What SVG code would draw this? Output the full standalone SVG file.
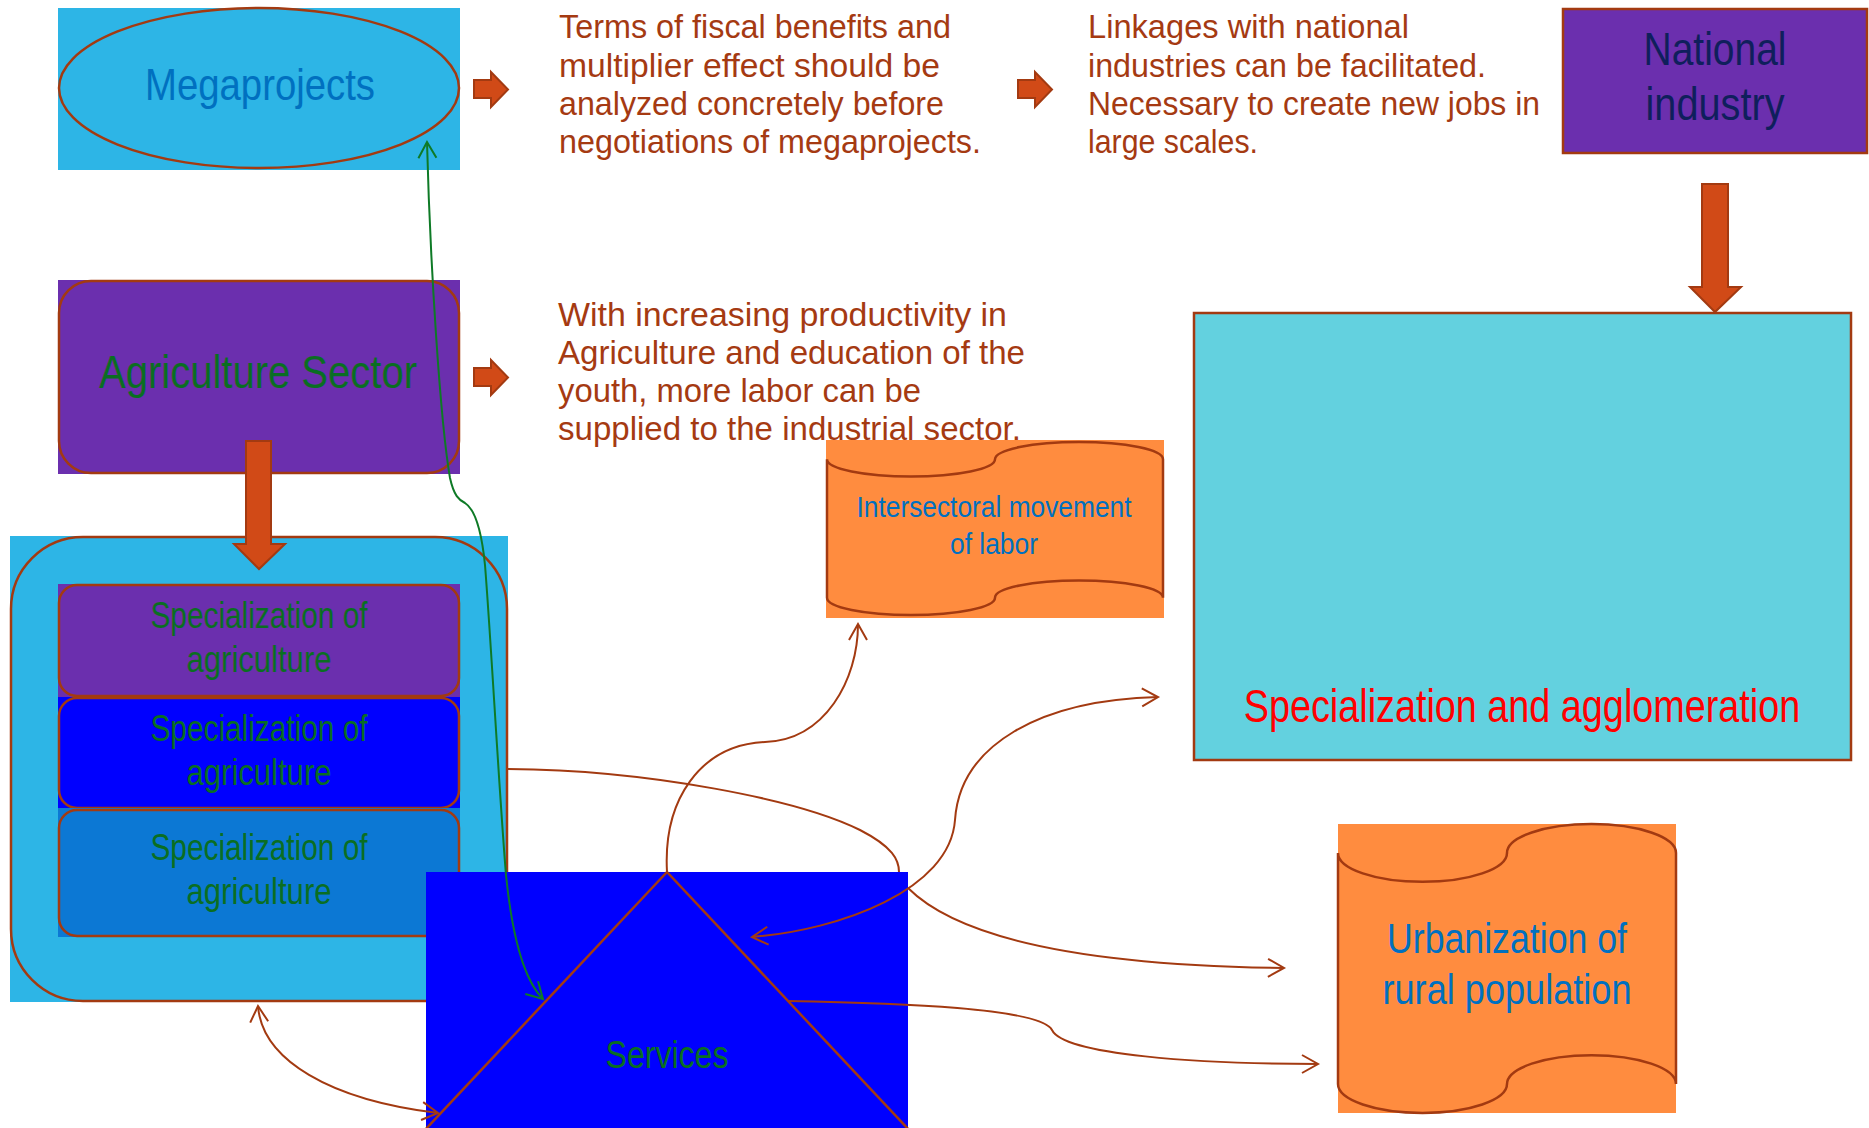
<svg xmlns="http://www.w3.org/2000/svg" width="1869" height="1128" viewBox="0 0 1869 1128">
<style>
.t{font-family:"Liberation Sans Narrow","Liberation Sans",Arial,sans-serif}
.stk{fill:none;stroke:#A33A11;stroke-width:2.5}
.conn{fill:none;stroke:#A33A11;stroke-width:2}
.gconn{fill:none;stroke:#0E7A26;stroke-width:2}
.barrow{fill:#D14A17;stroke:#A33A11;stroke-width:2}
.note{fill:#A53A12;font-size:34px}
.green{fill:#0A6E22}
.blue{fill:#0070C0}
</style>
<defs>
<marker id="ah" markerUnits="userSpaceOnUse" markerWidth="22" markerHeight="22" viewBox="-19 -11 22 22" refX="0" refY="0" orient="auto-start-reverse">
<path d="M-16,-9 L0,0 L-16,9" fill="none" stroke="#A33A11" stroke-width="2"/>
</marker>
<marker id="ahg" markerUnits="userSpaceOnUse" markerWidth="22" markerHeight="22" viewBox="-19 -11 22 22" refX="0" refY="0" orient="auto-start-reverse">
<path d="M-16,-9 L0,0 L-16,9" fill="none" stroke="#0E7A26" stroke-width="2"/>
</marker>
</defs>
<rect width="1869" height="1128" fill="#FFFFFF"/>

<g id="megaprojects">
<rect x="58" y="8" width="402" height="162" fill="#2DB5E6"/>
<ellipse cx="259" cy="88" rx="200" ry="80" class="stk"/>
<text x="260" y="100" class="t blue" font-size="45" text-anchor="middle" textLength="230" lengthAdjust="spacingAndGlyphs">Megaprojects</text>
</g>

<g id="arrow-1"><polygon class="barrow" points="474,80 491,80 491,72 508,89.5 491,107 491,98 474,98"/></g>
<g id="note-fiscal" class="t note">
<text x="559" y="38" textLength="392" lengthAdjust="spacingAndGlyphs">Terms of fiscal benefits and</text>
<text x="559" y="77" textLength="381" lengthAdjust="spacingAndGlyphs">multiplier effect should be</text>
<text x="559" y="115" textLength="385" lengthAdjust="spacingAndGlyphs">analyzed concretely before</text>
<text x="559" y="153" textLength="422" lengthAdjust="spacingAndGlyphs">negotiations of megaprojects.</text>
</g>
<g id="arrow-2"><polygon class="barrow" points="1018,80 1035,80 1035,72 1052,89.5 1035,107 1035,98 1018,98"/></g>
<g id="note-linkages" class="t note">
<text x="1088" y="38" textLength="321" lengthAdjust="spacingAndGlyphs">Linkages with national</text>
<text x="1088" y="77" textLength="398" lengthAdjust="spacingAndGlyphs">industries can be facilitated.</text>
<text x="1088" y="115" textLength="452" lengthAdjust="spacingAndGlyphs">Necessary to create new jobs in</text>
<text x="1088" y="153" textLength="170" lengthAdjust="spacingAndGlyphs">large scales.</text>
</g>

<g id="national-industry">
<rect x="1563" y="9" width="304" height="144" class="stk" style="fill:#6B2FAE"/>
<text x="1715" y="65" class="t" fill="#0F1F5C" font-size="46" text-anchor="middle" textLength="143" lengthAdjust="spacingAndGlyphs">National</text>
<text x="1715" y="120" class="t" fill="#0F1F5C" font-size="46" text-anchor="middle" textLength="139" lengthAdjust="spacingAndGlyphs">industry</text>
</g>
<g id="arrow-national"><polygon class="barrow" points="1702,184 1728,184 1728,287 1741,287 1715,312 1690,287 1702,287"/></g>

<g id="specialization-agglomeration">
<rect x="1194" y="313" width="657" height="447" class="stk" style="fill:#63D1DF"/>
<text transform="translate(1522,722) scale(0.804,1)" x="0" y="0" font-family="'Liberation Sans',Arial,sans-serif" fill="#FF0000" font-size="47" text-anchor="middle">Specialization and agglomeration</text>
</g>

<g id="agriculture-sector">
<rect x="58" y="280" width="402" height="194" fill="#6B2FAE"/>
<rect x="59" y="281" width="400" height="192" rx="32" class="stk"/>
<text x="258" y="388" class="t green" font-size="46" text-anchor="middle" textLength="318" lengthAdjust="spacingAndGlyphs">Agriculture Sector</text>
</g>
<g id="arrow-3"><polygon class="barrow" points="474,368 491,368 491,360 508,377.5 491,395 491,386 474,386"/></g>

<g id="note-productivity" class="t note">
<text x="558" y="326" textLength="449" lengthAdjust="spacingAndGlyphs">With increasing productivity in</text>
<text x="558" y="364" textLength="467" lengthAdjust="spacingAndGlyphs">Agriculture and education of the</text>
<text x="558" y="402" textLength="363" lengthAdjust="spacingAndGlyphs">youth, more labor can be</text>
<text x="558" y="440" textLength="463" lengthAdjust="spacingAndGlyphs">supplied to the industrial sector.</text>
</g>

<g id="intersectoral-movement">
<rect x="826" y="440" width="338" height="178" fill="#FF8C3F"/>
<path class="stk" d="M827,459.3 A84,17.3 0 0 0 995,459.3 A84,17.3 0 0 1 1163,459.3 L1163,597.7 A84,17.3 0 0 0 995,597.7 A84,17.3 0 0 1 827,597.7 Z"/>
<text x="994" y="517" class="t blue" font-size="29" text-anchor="middle" textLength="275" lengthAdjust="spacingAndGlyphs">Intersectoral movement</text>
<text x="994" y="554" class="t blue" font-size="29" text-anchor="middle" textLength="88" lengthAdjust="spacingAndGlyphs">of labor</text>
</g>

<g id="agriculture-group">
<rect x="10" y="536" width="498" height="466" fill="#2DB5E6"/>
<rect x="11" y="537" width="496" height="464" rx="72" class="stk"/>
</g>
<g id="arrow-agriculture"><polygon class="barrow" points="246,441 271,441 271,544 285,544 259,569 234,544 246,544"/></g>

<g id="specialization-1">
<rect x="58" y="584" width="402" height="113" fill="#6B2FAE"/>
<rect x="59" y="585" width="400" height="111" rx="18" class="stk"/>
<text x="259" y="628" class="t green" font-size="36" text-anchor="middle" textLength="217" lengthAdjust="spacingAndGlyphs">Specialization of</text>
<text x="259" y="672" class="t green" font-size="36" text-anchor="middle" textLength="145" lengthAdjust="spacingAndGlyphs">agriculture</text>
</g>
<g id="specialization-2">
<rect x="58" y="697" width="402" height="111" fill="#0000FF"/>
<rect x="59" y="698" width="400" height="110" rx="18" class="stk"/>
<text x="259" y="741" class="t green" font-size="36" text-anchor="middle" textLength="217" lengthAdjust="spacingAndGlyphs">Specialization of</text>
<text x="259" y="785" class="t green" font-size="36" text-anchor="middle" textLength="145" lengthAdjust="spacingAndGlyphs">agriculture</text>
</g>
<g id="specialization-3">
<rect x="58" y="808" width="402" height="129" fill="#0C78D4"/>
<rect x="59" y="810" width="400" height="126" rx="18" class="stk"/>
<text x="259" y="860" class="t green" font-size="36" text-anchor="middle" textLength="217" lengthAdjust="spacingAndGlyphs">Specialization of</text>
<text x="259" y="904" class="t green" font-size="36" text-anchor="middle" textLength="145" lengthAdjust="spacingAndGlyphs">agriculture</text>
</g>

<g id="urbanization">
<rect x="1338" y="824" width="338" height="289" fill="#FF8C3F"/>
<path class="stk" d="M1338,852.9 A84.5,28.9 0 0 0 1507,852.9 A84.5,28.9 0 0 1 1676,852.9 L1676,1084.1 A84.5,28.9 0 0 0 1507,1084.1 A84.5,28.9 0 0 1 1338,1084.1 Z"/>
<text x="1507" y="953" class="t blue" font-size="42" text-anchor="middle" textLength="240" lengthAdjust="spacingAndGlyphs">Urbanization of</text>
<text x="1507" y="1004" class="t blue" font-size="42" text-anchor="middle" textLength="249" lengthAdjust="spacingAndGlyphs">rural population</text>
</g>

<g id="services">
<rect x="426" y="872" width="482" height="256" fill="#0000FF"/>
<polyline class="stk" points="424,1131 667,872 910,1131"/>
<text x="667" y="1068" class="t green" font-size="39" text-anchor="middle" textLength="123" lengthAdjust="spacingAndGlyphs">Services</text>
</g>

<g id="connectors">
<path class="conn" marker-end="url(#ah)" d="M508,769 C650,770 800,800 860,830 C893,847 899,860 899,872 M908,888 C950,930 1050,965 1284,968"/>
<path class="conn" marker-end="url(#ah)" d="M667,872 C663,800 700,745 765,742 C825,740 858,680 858,624"/>
<path class="conn" marker-start="url(#ah)" marker-end="url(#ah)" d="M752,937 C840,930 950,890 955,820 C960,745 1040,700 1158,697"/>
<path class="conn" marker-end="url(#ah)" d="M787,1001 C900,1003 1040,1008 1052,1030 C1064,1055 1200,1064 1318,1064"/>
<path class="conn" marker-start="url(#ah)" marker-end="url(#ah)" d="M258,1006 C262,1060 330,1100 438,1113"/>
<path class="gconn" marker-start="url(#ahg)" marker-end="url(#ahg)" d="M427,142 C430,260 440,420 450,478 C454,496 459,500 465,503 C476,510 482,535 485,565 C491,640 499,790 506,875 C512,935 524,980 543,999"/>
</g>
</svg>
